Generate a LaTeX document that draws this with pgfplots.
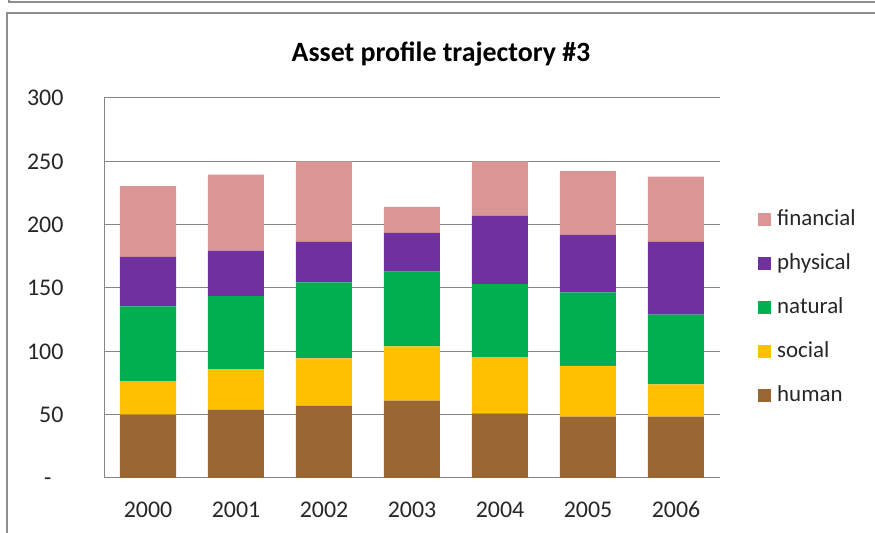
\documentclass[border=0pt]{standalone}
\usepackage{pgfplots}
\pgfplotsset{compat=1.18}
\usepackage{fontspec}
\setmainfont{Carlito}

\definecolor{cfin}{HTML}{D99694}
\definecolor{cphy}{HTML}{7030A0}
\definecolor{cnat}{HTML}{00B050}
\definecolor{csoc}{HTML}{FFC000}
\definecolor{chum}{HTML}{996633}
\definecolor{framec}{HTML}{8E8E8E}
\definecolor{gridc}{HTML}{868686}
\definecolor{textc}{HTML}{262626}

\begin{document}
\begin{tikzpicture}
\useasboundingbox (0bp,0bp) rectangle (875bp,533bp);
% chart frames (the one above is only cut in)
\draw[framec, line width=1.3bp] (9bp,533bp) -- (9bp,531bp) -- (875bp,531bp);
\draw[framec, line width=1.3bp] (7bp,0bp) -- (7bp,520bp) -- (875bp,520bp);
\node[font=\bfseries\fontsize{28}{32}\selectfont] at (441bp,479bp) {Asset profile trajectory \#3};

\begin{axis}[
  at={(104bp,55bp)}, anchor=south west,
  scale only axis, width=616bp, height=380bp,
  ybar stacked, bar width=56bp,
  xmin=-0.5, xmax=6.5, ymin=0, ymax=300,
  xtick={0,...,6}, xticklabels={2000,2001,2002,2003,2004,2005,2006},
  ytick={0,50,...,300}, yticklabels={-\phantom{0},50,100,150,200,250,300},
  axis x line*=bottom, axis y line*=left,
  axis line style={gridc, line width=1bp, -},
  ymajorgrids, grid style={gridc, line width=1bp},
  major tick length=0pt,
  tick label style={font=\fontsize{24}{28}\selectfont, text=textc},
  yticklabel style={xshift=-37bp},
  xticklabel style={yshift=-20bp},
  reverse legend,
  legend image code/.code={\fill[#1] (0bp,-6.5bp) rectangle (13bp,6.5bp);},
  legend style={at={(1.0617,0.448)}, anchor=west, draw=none, fill=none,
    font=\fontsize{23}{27}\selectfont, text=textc, inner sep=0pt, row sep=23bp,
    nodes={inner sep=0pt, text height=16bp, text depth=5bp},
    /tikz/every odd column/.append style={column sep=6bp}},
  legend cell align=left,
]
\addplot[fill=chum, draw=none] coordinates {(0,50)(1,54)(2,57)(3,61)(4,51)(5,48.5)(6,48.5)};
\addplot[fill=csoc, draw=none] coordinates {(0,26.5)(1,32)(2,37.5)(3,43)(4,44.5)(5,40)(6,25.5)};
\addplot[fill=cnat, draw=none] coordinates {(0,59)(1,57.5)(2,60)(3,59)(4,57.5)(5,58)(6,55)};
\addplot[fill=cphy, draw=none] coordinates {(0,39)(1,36)(2,32)(3,30.5)(4,54)(5,45.5)(6,57.5)};
\addplot[fill=cfin, draw=none] coordinates {(0,56)(1,60)(2,63.5)(3,20.5)(4,43)(5,50.5)(6,51.5)};
\legend{human,social,natural,physical,financial}
\end{axis}
\end{tikzpicture}
\end{document}
